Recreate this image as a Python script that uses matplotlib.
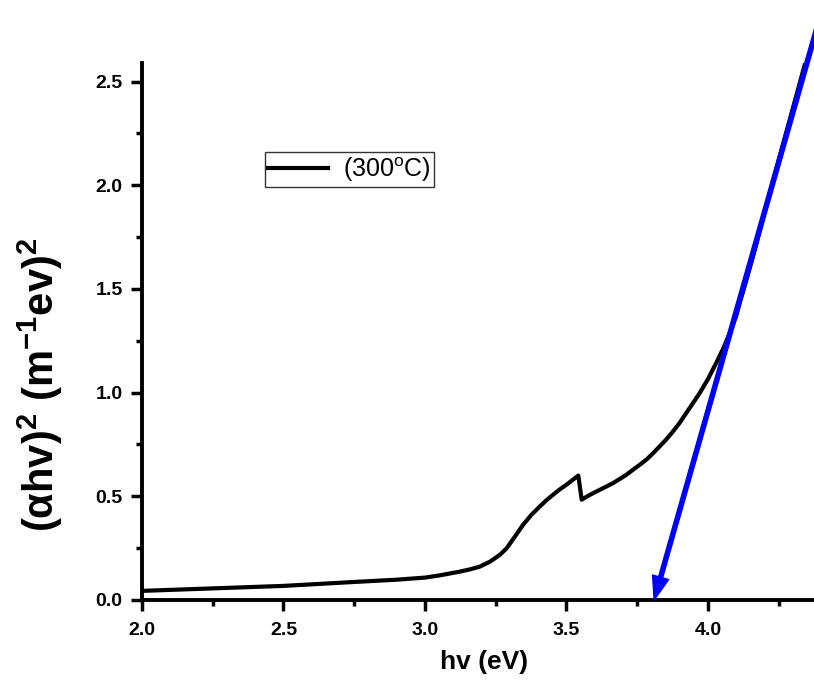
import matplotlib
matplotlib.use("Agg")
import matplotlib.pyplot as plt
from matplotlib.ticker import MultipleLocator

plt.rcParams['font.family'] = ['Liberation Sans', 'DejaVu Sans']
plt.rcParams['mathtext.fontset'] = 'custom'
plt.rcParams['mathtext.rm'] = 'Liberation Sans'
plt.rcParams['mathtext.bf'] = 'Liberation Sans:bold'
plt.rcParams['mathtext.default'] = 'bf'

# (alpha h nu)^2 curve
hv = [2.00, 2.25, 2.50, 2.75, 2.90, 3.00, 3.053, 3.124, 3.16, 3.194, 3.23,
      3.265, 3.289, 3.318, 3.347, 3.377, 3.406, 3.43, 3.453, 3.475, 3.50,
      3.52, 3.542, 3.554, 3.58, 3.607, 3.635, 3.665, 3.69, 3.712, 3.735,
      3.76, 3.785, 3.807, 3.85, 3.875, 3.90, 3.94, 3.972, 4.00, 4.03, 4.055,
      4.078, 4.10, 4.113, 4.137, 4.166, 4.20, 4.25, 4.30, 4.346]
ahv2 = [0.044, 0.056, 0.068, 0.087, 0.098, 0.108, 0.119, 0.137, 0.148, 0.161,
        0.185, 0.218, 0.250, 0.306, 0.363, 0.412, 0.451, 0.482, 0.508, 0.532,
        0.556, 0.577, 0.600, 0.484, 0.505, 0.524, 0.543, 0.564, 0.585, 0.604,
        0.628, 0.653, 0.680, 0.709, 0.770, 0.810, 0.854, 0.935, 1.000, 1.065,
        1.145, 1.215, 1.290, 1.370, 1.435, 1.547, 1.690, 1.870, 2.120, 2.370,
        2.600]

# linear fit (extrapolated to the band gap)
fit_hv = [4.40, 3.81]
fit_y = [2.83, 0.0]

fig = plt.figure(figsize=(8.14, 6.89), dpi=100)
ax = fig.add_axes([142 / 814, 1 - 600 / 689, 1 - 142 / 814, (600 - 63) / 689])

ax.plot(hv, ahv2, color='black', lw=3, label='(300$^\\mathrm{o}$C)')
ax.annotate('', xy=(fit_hv[1], fit_y[1]), xytext=(fit_hv[0], fit_y[0]),
            arrowprops=dict(width=3, headwidth=12, headlength=17,
                            color='blue', shrink=0),
            annotation_clip=False)

ax.set_xlim(2.0, 4.375)
ax.set_ylim(0, 2.59)
ax.xaxis.set_major_locator(MultipleLocator(0.5))
ax.xaxis.set_minor_locator(MultipleLocator(0.25))
ax.yaxis.set_major_locator(MultipleLocator(0.5))
ax.yaxis.set_minor_locator(MultipleLocator(0.25))

for side in ['top', 'right']:
    ax.spines[side].set_visible(False)
for side in ['left', 'bottom']:
    ax.spines[side].set_linewidth(2.8)
ax.tick_params(which='major', direction='out', length=8, width=2.5,
               labelsize=14)
ax.tick_params(which='minor', direction='out', length=4.5, width=2.5)
ax.tick_params(axis='x', which='major', pad=8)
ax.tick_params(axis='y', which='major', pad=6)
for lab in ax.get_xticklabels() + ax.get_yticklabels():
    lab.set_fontweight('bold')

ax.set_xlabel('hv (eV)', fontsize=19, fontweight='bold')
ax.xaxis.set_label_coords(0.509, -0.093)
ax.set_ylabel('(\u03b1hv)$^2$ (m$^{-1}$ev)$^2$', fontsize=30,
              fontweight='bold')
ax.yaxis.set_label_coords(-0.115, 0.40)

leg = ax.legend(loc='upper left', bbox_to_anchor=(265 / 814, 1 - 152 / 689),
                bbox_transform=fig.transFigure, borderaxespad=0,
                fancybox=False, fontsize=18, handlelength=2.4,
                handletextpad=0.6, borderpad=0.12)
leg.get_frame().set_edgecolor('black')
leg.get_frame().set_linewidth(1)

fig.savefig('out.png', dpi=100)
